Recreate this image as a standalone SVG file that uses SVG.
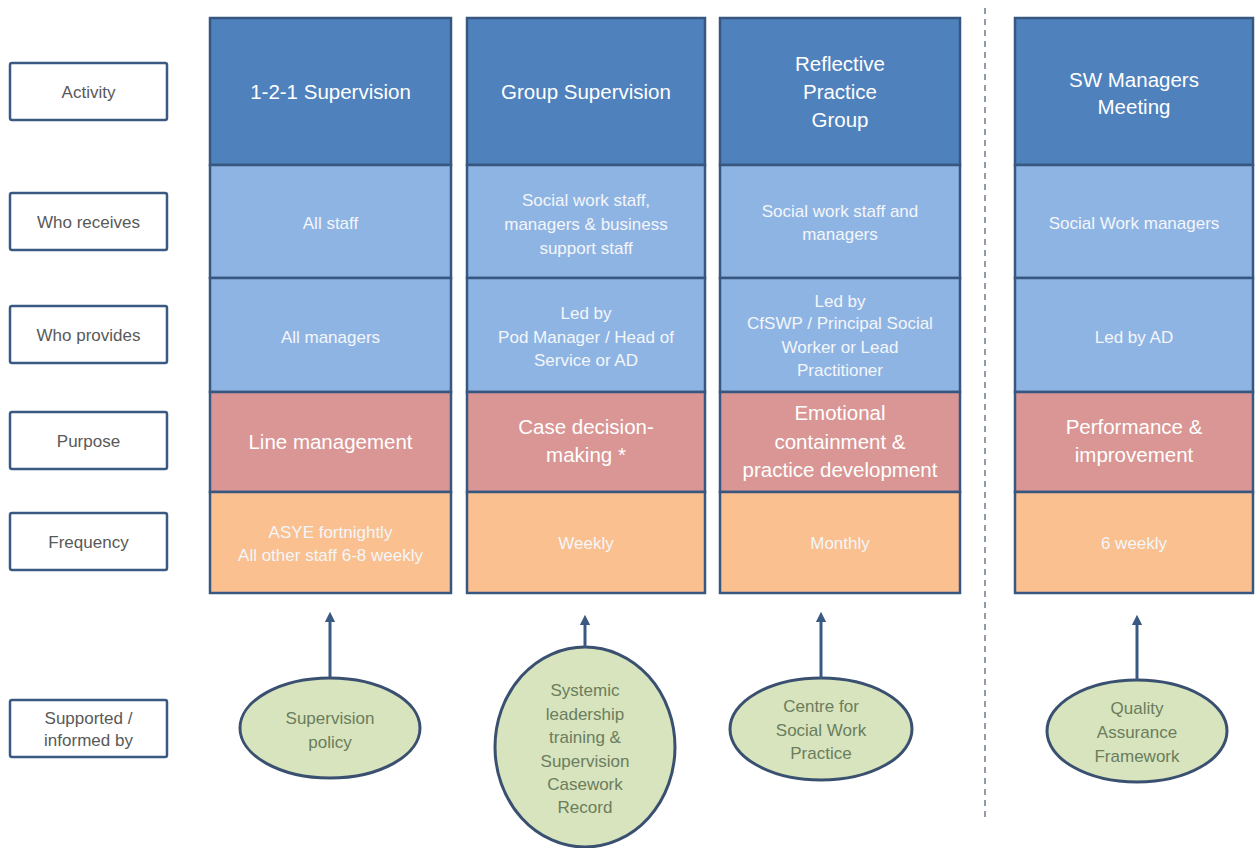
<svg xmlns="http://www.w3.org/2000/svg" width="1255" height="848" viewBox="0 0 1255 848">
<defs>
<style>
.lbl rect{fill:#fff;stroke:#3B5A82;stroke-width:2.5}
.lbl text{font-family:"Liberation Sans",Arial,sans-serif;font-size:17px;fill:#595959;text-anchor:middle}
.c rect{stroke:#385780;stroke-width:2.5}
.act{fill:#4F81BD}
.who{fill:#8EB4E3}
.pur{fill:#D99694}
.fre{fill:#FAC090}
.t{font-family:"Liberation Sans",Arial,sans-serif;fill:#FFFFFF;text-anchor:middle}
.big{font-size:20.5px}
.sm{font-size:17px;fill:#F4F6FA}
.ell ellipse{fill:#D7E4BD;stroke:#3A5070;stroke-width:3}
.ell text{font-family:"Liberation Sans",Arial,sans-serif;font-size:17px;fill:#6B7D5E;text-anchor:middle}
.arr{stroke:#3B5A82;stroke-width:3;fill:none;marker-end:url(#ah)}
</style>
<marker id="ah" viewBox="0 0 10 10" refX="5" refY="5" markerWidth="3.5" markerHeight="3.5" orient="auto" markerUnits="strokeWidth">
<path d="M0,0 L10,5 L0,10 z" fill="#3B5A82"/>
</marker>
</defs>
<rect width="1255" height="848" fill="#fff"/>

<g id="label-activity" class="lbl"><rect x="10" y="63" width="157" height="57" rx="2"/><text x="88.5" y="97.5">Activity</text></g>
<g id="label-who-receives" class="lbl"><rect x="10" y="193" width="157" height="57" rx="2"/><text x="88.5" y="227.5">Who receives</text></g>
<g id="label-who-provides" class="lbl"><rect x="10" y="306" width="157" height="57" rx="2"/><text x="88.5" y="340.5">Who provides</text></g>
<g id="label-purpose" class="lbl"><rect x="10" y="412" width="157" height="57" rx="2"/><text x="88.5" y="446.5">Purpose</text></g>
<g id="label-frequency" class="lbl"><rect x="10" y="513" width="157" height="57" rx="2"/><text x="88.5" y="547.5">Frequency</text></g>
<g id="label-supported" class="lbl"><rect x="10" y="700" width="157" height="57" rx="2"/><text x="88.5" y="724">Supported /</text><text x="88.5" y="746">informed by</text></g>

<g id="col-121" class="c">
<rect class="act" x="210" y="18" width="241" height="147"/>
<rect class="who" x="210" y="165" width="241" height="113"/>
<rect class="who" x="210" y="278" width="241" height="114"/>
<rect class="pur" x="210" y="392" width="241" height="100"/>
<rect class="fre" x="210" y="492" width="241" height="101"/>
<text class="t big" x="330.5" y="99">1-2-1 Supervision</text>
<text class="t sm" x="330.5" y="229">All staff</text>
<text class="t sm" x="330.5" y="343">All managers</text>
<text class="t big" x="330.5" y="449">Line management</text>
<text class="t sm" x="330.5" y="538">ASYE fortnightly</text>
<text class="t sm" x="330.5" y="561">All other staff 6-8 weekly</text>
</g>

<g id="col-group" class="c">
<rect class="act" x="467" y="18" width="238" height="147"/>
<rect class="who" x="467" y="165" width="238" height="113"/>
<rect class="who" x="467" y="278" width="238" height="114"/>
<rect class="pur" x="467" y="392" width="238" height="100"/>
<rect class="fre" x="467" y="492" width="238" height="101"/>
<text class="t big" x="586" y="99">Group Supervision</text>
<text class="t sm" x="586" y="206">Social work staff,</text>
<text class="t sm" x="586" y="230">managers &amp; business</text>
<text class="t sm" x="586" y="254">support staff</text>
<text class="t sm" x="586" y="319">Led by</text>
<text class="t sm" x="586" y="343">Pod Manager / Head of</text>
<text class="t sm" x="586" y="366">Service or AD</text>
<text class="t big" x="586" y="434">Case decision-</text>
<text class="t big" x="586" y="462">making *</text>
<text class="t sm" x="586" y="549">Weekly</text>
</g>

<g id="col-reflective" class="c">
<rect class="act" x="720" y="18" width="240" height="147"/>
<rect class="who" x="720" y="165" width="240" height="113"/>
<rect class="who" x="720" y="278" width="240" height="114"/>
<rect class="pur" x="720" y="392" width="240" height="100"/>
<rect class="fre" x="720" y="492" width="240" height="101"/>
<text class="t big" x="840" y="71">Reflective</text>
<text class="t big" x="840" y="99">Practice</text>
<text class="t big" x="840" y="127">Group</text>
<text class="t sm" x="840" y="217">Social work staff and</text>
<text class="t sm" x="840" y="240">managers</text>
<text class="t sm" x="840" y="307">Led by</text>
<text class="t sm" x="840" y="329">CfSWP / Principal Social</text>
<text class="t sm" x="840" y="353">Worker or Lead</text>
<text class="t sm" x="840" y="376">Practitioner</text>
<text class="t big" x="840" y="420">Emotional</text>
<text class="t big" x="840" y="449">containment &amp;</text>
<text class="t big" x="840" y="477">practice development</text>
<text class="t sm" x="840" y="549">Monthly</text>
</g>

<g id="col-swmanagers" class="c">
<rect class="act" x="1015" y="18" width="238" height="147"/>
<rect class="who" x="1015" y="165" width="238" height="113"/>
<rect class="who" x="1015" y="278" width="238" height="114"/>
<rect class="pur" x="1015" y="392" width="238" height="100"/>
<rect class="fre" x="1015" y="492" width="238" height="101"/>
<text class="t big" x="1134" y="87">SW Managers</text>
<text class="t big" x="1134" y="114">Meeting</text>
<text class="t sm" x="1134" y="229">Social Work managers</text>
<text class="t sm" x="1134" y="343">Led by AD</text>
<text class="t big" x="1134" y="434">Performance &amp;</text>
<text class="t big" x="1134" y="462">improvement</text>
<text class="t sm" x="1134" y="549">6 weekly</text>
</g>

<g id="divider"><line x1="985" y1="8" x2="985" y2="822" stroke="#6F7C8C" stroke-width="1.5" stroke-dasharray="6,5"/></g>

<g id="ell-supervision-policy" class="ell"><ellipse cx="330" cy="728" rx="90" ry="50"/><text x="330" y="724">Supervision</text><text x="330" y="748">policy</text></g>
<g id="ell-systemic" class="ell"><ellipse cx="585" cy="747" rx="90" ry="100"/>
<text x="585" y="696">Systemic</text><text x="585" y="720">leadership</text><text x="585" y="743">training &amp;</text><text x="585" y="767">Supervision</text><text x="585" y="790">Casework</text><text x="585" y="813">Record</text></g>
<g id="ell-cfswp" class="ell"><ellipse cx="821" cy="729" rx="91" ry="51"/><text x="821" y="712">Centre for</text><text x="821" y="736">Social Work</text><text x="821" y="759">Practice</text></g>
<g id="ell-qaf" class="ell"><ellipse cx="1137" cy="731" rx="90" ry="51"/><text x="1137" y="714">Quality</text><text x="1137" y="738">Assurance</text><text x="1137" y="762">Framework</text></g>

<g id="connectors">
<line class="arr" x1="330" y1="677" x2="330" y2="617"/>
<line class="arr" x1="585" y1="647" x2="585" y2="620"/>
<line class="arr" x1="821" y1="678" x2="821" y2="617"/>
<line class="arr" x1="1137" y1="680" x2="1137" y2="620"/>
</g>
</svg>
